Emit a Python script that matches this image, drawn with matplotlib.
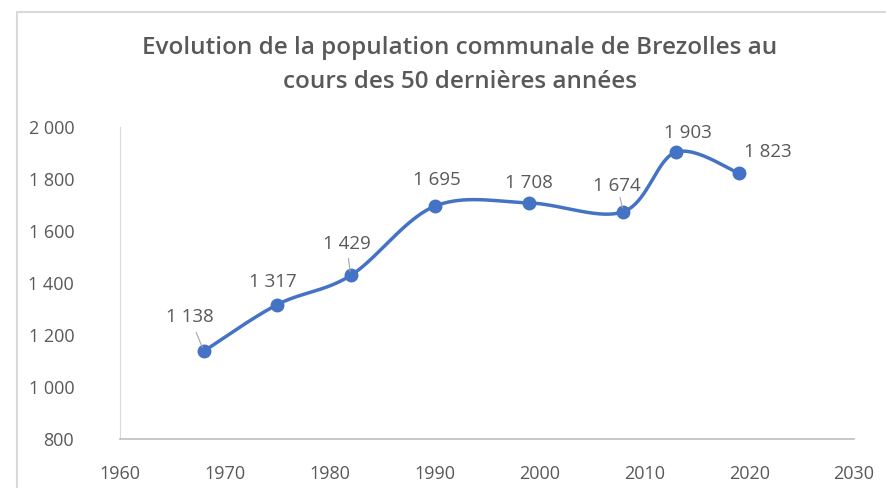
import matplotlib

matplotlib.use("Agg")
import matplotlib.pyplot as plt
import numpy as np
from matplotlib.patches import Rectangle

years = [1968, 1975, 1982, 1990, 1999, 2008, 2013, 2019]
population = [1138, 1317, 1429, 1695, 1708, 1674, 1903, 1823]
# label offsets in pixels (dx, dy) relative to each point
label_offsets = [(-14, 34), (-4, 23), (-4, 31), (2, 26), (0, 20), (-6, 26), (12, 19), (29, 21)]
leader = [True, False, True, False, False, True, False, False]

BLUE = "#4472C4"
GREY = "#595959"
XMIN, XMAX, YMIN, YMAX = 1960, 2030, 800, 2000


def smooth(xs, ys, n=40):
    # Catmull-Rom through the points, in normalised axis space
    px = (np.asarray(xs, float) - XMIN) / (XMAX - XMIN) * 734
    py = (np.asarray(ys, float) - YMIN) / (YMAX - YMIN) * 313
    P = np.column_stack([px, py])
    P = np.vstack([P[0], P, P[-1]])
    out = []
    for i in range(1, len(P) - 2):
        p0, p1, p2, p3 = P[i - 1], P[i], P[i + 1], P[i + 2]
        c1 = p1 + (p2 - p0) / 6
        c2 = p2 - (p3 - p1) / 6
        t = np.linspace(0, 1, n)[:, None]
        seg = ((1 - t) ** 3 * p1 + 3 * (1 - t) ** 2 * t * c1
               + 3 * (1 - t) * t ** 2 * c2 + t ** 3 * p2)
        out.append(seg if i == 1 else seg[1:])
    out = np.vstack(out)
    return (out[:, 0] / 734 * (XMAX - XMIN) + XMIN,
            out[:, 1] / 313 * (YMAX - YMIN) + YMIN)


plt.rcParams["font.family"] = ["Open Sans", "DejaVu Sans"]

fig = plt.figure(figsize=(8.86, 4.88), dpi=100)
fig.patches.append(Rectangle((17 / 886, -0.1), 1.2, 1.1 - 12 / 488,
                             transform=fig.transFigure, fill=False,
                             edgecolor="#d9d9d9", linewidth=1.5))
ax = fig.add_axes([120 / 886, 1 - 439 / 488, 734 / 886, 312 / 488])

sx, sy = smooth(years, population)
ax.plot(sx, sy, color=BLUE, linewidth=2.5, solid_capstyle="round", zorder=2)
ax.plot(years, population, "o", color=BLUE, markersize=9, zorder=3)

for x, y, (dx, dy), ld in zip(years, population, label_offsets, leader):
    txt = f"{y:,}".replace(",", " ")
    ax.annotate(txt, (x, y), xytext=(dx, dy), textcoords="offset pixels",
                ha="center", va="center", fontsize=13.5, color=GREY)
    if ld:
        ax.annotate("", (x, y), xytext=(dx * 0.55, dy * 0.55),
                    textcoords="offset pixels",
                    arrowprops=dict(arrowstyle="-", color="#a6a6a6", lw=0.8,
                                    shrinkA=0, shrinkB=3))

ax.set_xlim(XMIN, XMAX)
ax.set_ylim(YMIN, YMAX)
ax.set_xticks(range(1960, 2031, 10))
ax.set_yticks(range(800, 2001, 200))
ax.set_yticklabels([f"{v:,}".replace(",", " ") for v in range(800, 2001, 200)])
ax.tick_params(length=0, labelsize=13, labelcolor=GREY)
ax.tick_params(axis="x", pad=19)
ax.tick_params(axis="y", pad=33)
for s in ["top", "right"]:
    ax.spines[s].set_visible(False)
ax.spines["left"].set_color("#d9d9d9")
ax.spines["bottom"].set_color("#bfbfbf")
ax.spines["bottom"].set_linewidth(1.2)

fig.text(460 / 886, 1 - 65 / 488,
         "Evolution de la population communale de Brezolles au\ncours des 50 dernières années",
         ha="center", va="center", fontsize=17.5, fontweight="semibold",
         color=GREY, linespacing=1.55)

fig.savefig("out.png", dpi=100)
